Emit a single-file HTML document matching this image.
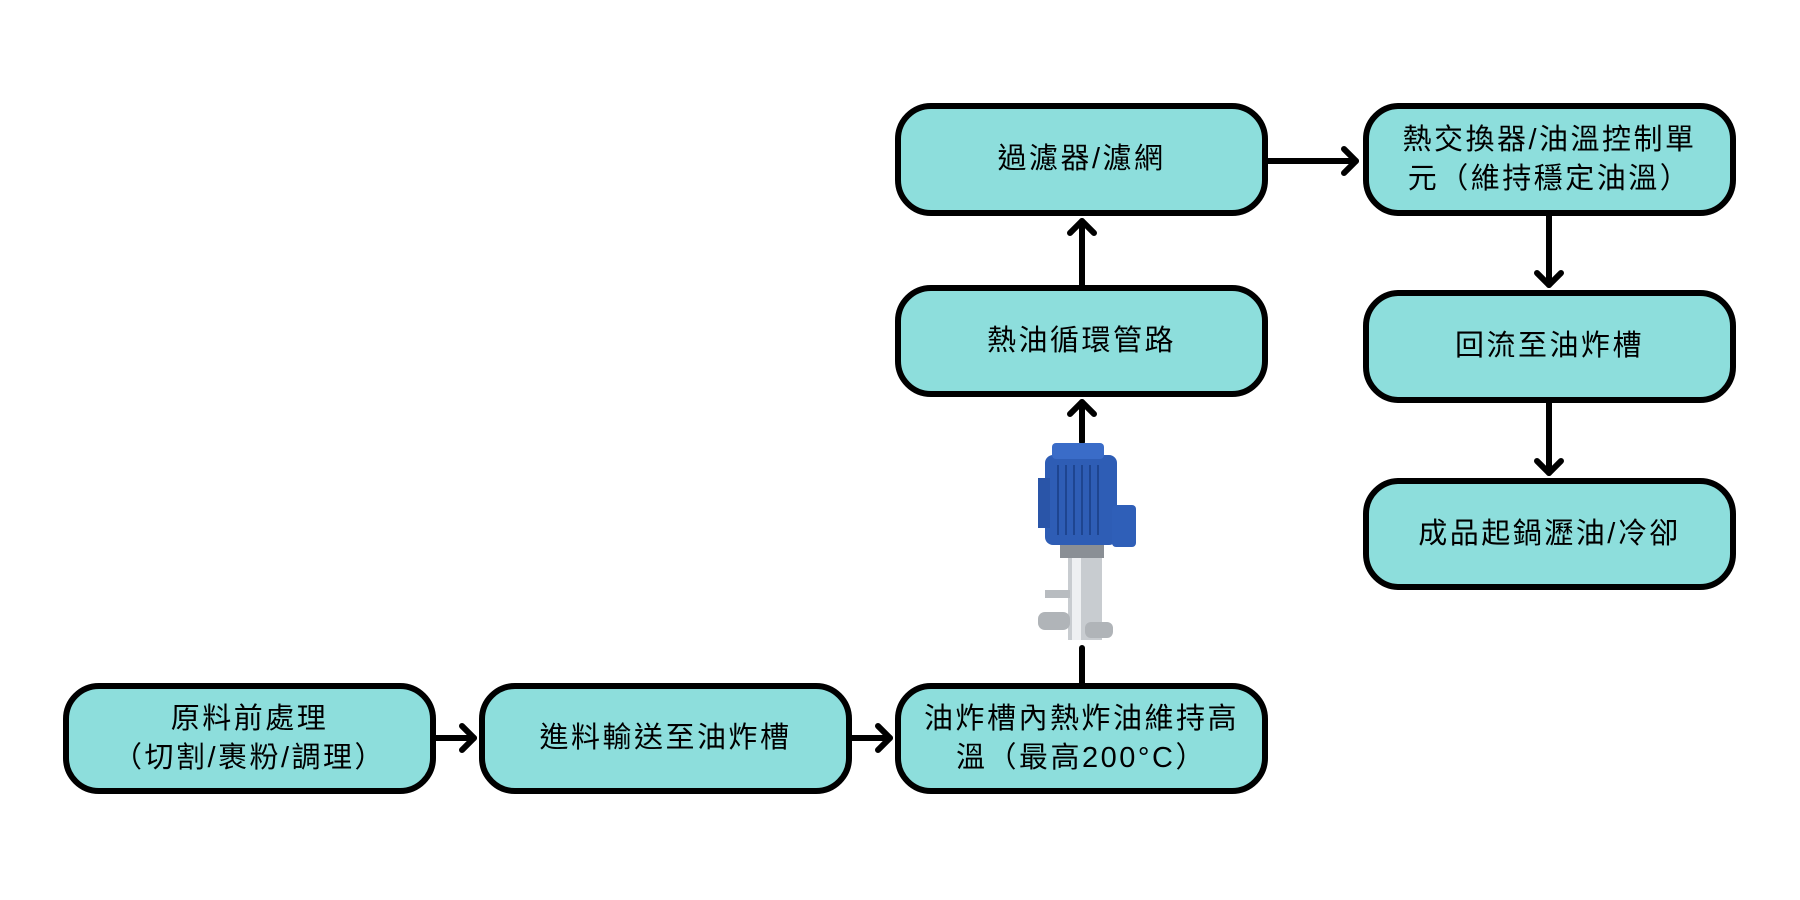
<!DOCTYPE html>
<html><head><meta charset="utf-8"><style>
html,body{margin:0;padding:0;background:#fff;}
body{width:1800px;height:900px;position:relative;overflow:hidden;font-family:"Liberation Sans","Noto Sans CJK TC",sans-serif;}
.b{position:absolute;box-sizing:border-box;background:#8ddedc;border:6px solid #000;border-radius:36px;display:flex;align-items:center;justify-content:center;text-align:center;font-size:29px;letter-spacing:2.5px;line-height:39px;color:#000;}
svg{position:absolute;left:0;top:0;}
</style></head><body>
<svg width="1800" height="900">
<g stroke="#000" stroke-width="6" fill="none" stroke-linecap="round" stroke-linejoin="round">
<line x1="436" y1="738" x2="474" y2="738"/><polyline points="462,726 474,738 462,750"/>
<line x1="852" y1="738" x2="890" y2="738"/><polyline points="878,726 890,738 878,750"/>
<line x1="1082" y1="683" x2="1082" y2="648"/>
<line x1="1082" y1="442" x2="1082" y2="402"/><polyline points="1070,414 1082,402 1094,414"/>
<line x1="1082" y1="285" x2="1082" y2="221"/><polyline points="1070,233 1082,221 1094,233"/>
<line x1="1268" y1="161" x2="1356" y2="161"/><polyline points="1344,149 1356,161 1344,173"/>
<line x1="1549" y1="216" x2="1549" y2="285"/><polyline points="1537,273 1549,285 1561,273"/>
<line x1="1549" y1="403" x2="1549" y2="473"/><polyline points="1537,461 1549,473 1561,461"/>
</g>
<g>
<rect x="1068" y="555" width="34" height="85" fill="#c8ccd0"/>
<rect x="1072" y="555" width="9" height="85" fill="#eef0f2"/>
<rect x="1045" y="590" width="25" height="8" fill="#b8bcc0"/>
<rect x="1038" y="612" width="32" height="18" rx="7" fill="#b0b4b8"/>
<rect x="1085" y="622" width="28" height="16" rx="6" fill="#b0b4b8"/>
<rect x="1060" y="540" width="44" height="18" fill="#8a8f95"/>
<rect x="1045" y="455" width="72" height="90" rx="8" fill="#2e5db5"/>
<rect x="1052" y="443" width="52" height="16" rx="4" fill="#3a6cc8"/>
<rect x="1038" y="478" width="12" height="50" fill="#2a55a8"/>
<rect x="1112" y="505" width="24" height="42" rx="4" fill="#2f5fb8"/>
<g stroke="#1e4590" stroke-width="2"><line x1="1058" y1="465" x2="1058" y2="535"/><line x1="1066" y1="465" x2="1066" y2="535"/><line x1="1074" y1="465" x2="1074" y2="535"/><line x1="1082" y1="465" x2="1082" y2="535"/><line x1="1090" y1="465" x2="1090" y2="535"/><line x1="1098" y1="465" x2="1098" y2="535"/></g>
</g>
</svg>
<div class="b" style="left:63px;top:683px;width:373px;height:111px;">原料前處理<br>（切割/裹粉/調理）</div>
<div class="b" style="left:479px;top:683px;width:373px;height:111px;">進料輸送至油炸槽</div>
<div class="b" style="left:895px;top:683px;width:373px;height:111px;">油炸槽內熱炸油維持高<br>溫（最高200°C）</div>
<div class="b" style="left:895px;top:285px;width:373px;height:112px;">熱油循環管路</div>
<div class="b" style="left:895px;top:103px;width:373px;height:113px;">過濾器/濾網</div>
<div class="b" style="left:1363px;top:103px;width:373px;height:113px;">熱交換器/油溫控制單<br>元（維持穩定油溫）</div>
<div class="b" style="left:1363px;top:290px;width:373px;height:113px;">回流至油炸槽</div>
<div class="b" style="left:1363px;top:478px;width:373px;height:112px;">成品起鍋瀝油/冷卻</div>
</body></html>
